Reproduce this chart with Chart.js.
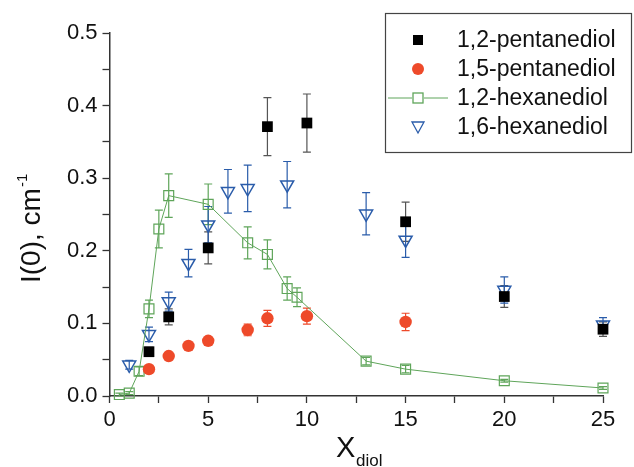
<!DOCTYPE html>
<html>
<head>
<meta charset="utf-8">
<script src="https://cdn.jsdelivr.net/npm/chart.js@4.4.1/dist/chart.umd.min.js"></script>
<style>
  body { margin: 0; background: #fff; }
  canvas { display: block; }
</style>
</head>
<body>
<canvas id="graph" width="634" height="467"></canvas>
<script>
// 1,2-pentanediol
var xPent12 = [2, 3, 5, 8, 10, 15, 20, 25];
var yPent12 = [0.061, 0.109, 0.204, 0.371, 0.376, 0.240, 0.137, 0.092];
var ePent12 = [0.006, 0.011, 0.022, 0.040, 0.040, 0.027, 0.015, 0.010];

// 1,5-pentanediol
var xPent15 = [2, 3, 4, 5, 7, 8, 10, 15];
var yPent15 = [0.037, 0.055, 0.069, 0.076, 0.091, 0.107, 0.110, 0.102];
var ePent15 = [0.004, 0.004, 0.004, 0.004, 0.008, 0.011, 0.011, 0.012];

// 1,2-hexanediol
var xHex12 = [0.5, 1, 1.5, 2, 2.5, 3, 5, 7, 8, 9, 9.5, 13, 15, 20, 25];
var yHex12 = [0.002, 0.004, 0.034, 0.120, 0.230, 0.276, 0.264, 0.211, 0.195, 0.148, 0.136, 0.048, 0.037, 0.021, 0.011];
var eHex12 = [0.002, 0.002, 0.006, 0.012, 0.026, 0.030, 0.028, 0.022, 0.020, 0.016, 0.013, 0.005, 0.005, 0.002, 0.002];

// 1,6-hexanediol
var xHex16 = [1, 2, 3, 4, 5, 6, 7, 9, 13, 15, 20, 25];
var yHex16 = [0.043, 0.085, 0.130, 0.183, 0.236, 0.282, 0.286, 0.291, 0.251, 0.215, 0.146, 0.098];
var eHex16 = [0.006, 0.010, 0.013, 0.019, 0.025, 0.030, 0.032, 0.032, 0.029, 0.024, 0.018, 0.010];

var labels = ["1,2-pentanediol", "1,5-pentanediol", "1,2-hexanediol", "1,6-hexanediol"];

var FONT = "'Liberation Sans', Arial, sans-serif";

function points(xs, ys) {
  var pts = [];
  for (var i = 0; i < xs.length; i++) pts.push({ x: xs[i], y: ys[i] });
  return pts;
}

// error bars drawn under the markers
var errorBars = {
  id: 'errorBars',
  beforeDatasetsDraw: function (chart) {
    var ctx = chart.ctx;
    var sx = chart.scales.x, sy = chart.scales.y;
    chart.data.datasets.forEach(function (ds) {
      ctx.save();
      ctx.strokeStyle = ds.errColor;
      ctx.lineWidth = 1.2;
      ds.data.forEach(function (p, i) {
        var px = sx.getPixelForValue(p.x);
        var top = sy.getPixelForValue(p.y + ds.errors[i]);
        var bot = sy.getPixelForValue(p.y - ds.errors[i]);
        ctx.beginPath();
        ctx.moveTo(px, top); ctx.lineTo(px, bot);
        ctx.moveTo(px - 4, top); ctx.lineTo(px + 4, top);
        ctx.moveTo(px - 4, bot); ctx.lineTo(px + 4, bot);
        ctx.stroke();
      });
      ctx.restore();
    });
  }
};

// axis titles with sub/superscript
var axisTitles = {
  id: 'axisTitles',
  afterDraw: function (chart) {
    var ctx = chart.ctx;
    ctx.save();
    ctx.fillStyle = '#111';
    ctx.textBaseline = 'alphabetic';
    ctx.font = '29px ' + FONT;
    ctx.fillText('X', 336, 457);
    ctx.font = '17px ' + FONT;
    ctx.fillText('diol', 356, 466);

    ctx.translate(40, 283);
    ctx.rotate(-Math.PI / 2);
    ctx.font = '28px ' + FONT;
    ctx.fillText('I(0), cm', 0, 0);
    var w = ctx.measureText('I(0), cm').width;
    ctx.font = '15px ' + FONT;
    ctx.fillText('-1', w + 1, -13);
    ctx.restore();
  }
};

// legend box in the upper right corner
var legendBox = {
  id: 'legendBox',
  afterDraw: function (chart) {
    var ctx = chart.ctx;
    ctx.save();
    ctx.fillStyle = '#fff';
    ctx.fillRect(385, 13, 247, 140);
    ctx.strokeStyle = '#444';
    ctx.lineWidth = 1.2;
    ctx.strokeRect(385.5, 13.5, 246, 139);
    var rows = [40, 69, 98, 127];
    var mx = 418;
    chart.data.datasets.forEach(function (ds, i) {
      var y = rows[i];
      ctx.lineWidth = 1.3;
      if (i === 0) {
        ctx.fillStyle = '#000';
        ctx.fillRect(mx - 5, y - 5, 10, 10);
      } else if (i === 1) {
        ctx.fillStyle = ds.pointBackgroundColor;
        ctx.beginPath(); ctx.arc(mx, y, 6, 0, Math.PI * 2); ctx.fill();
      } else if (i === 2) {
        ctx.strokeStyle = ds.borderColor;
        ctx.lineWidth = 1;
        ctx.beginPath(); ctx.moveTo(388, y); ctx.lineTo(412, y); ctx.moveTo(424, y); ctx.lineTo(448, y); ctx.stroke();
        ctx.lineWidth = 1.3;
        ctx.strokeRect(mx - 5, y - 5, 10, 10);
      } else {
        ctx.strokeStyle = ds.pointBorderColor;
        ctx.beginPath();
        ctx.moveTo(mx - 6, y - 5); ctx.lineTo(mx + 6, y - 5); ctx.lineTo(mx, y + 6); ctx.closePath();
        ctx.stroke();
      }
      ctx.fillStyle = '#111';
      ctx.font = '23px ' + FONT;
      ctx.textBaseline = 'middle';
      ctx.fillText(labels[i], 457, y + 1);
    });
    ctx.restore();
  }
};

new Chart(document.getElementById('graph'),
{
  type: 'scatter',
  data:
  {
    datasets:
    [{
      label: labels[0],
      data: points(xPent12, yPent12),
      errors: ePent12,
      errColor: '#555',
      clip: false,
      pointStyle: 'rect',
      pointRadius: 7.6,
      pointBackgroundColor: '#000',
      pointBorderColor: '#000',
      pointBorderWidth: 0
    },
    {
      label: labels[1],
      data: points(xPent15, yPent15),
      errors: ePent15,
      errColor: '#ee4a2a',
      clip: false,
      pointStyle: 'circle',
      pointRadius: 6.2,
      pointBackgroundColor: '#ee4a2a',
      pointBorderColor: '#ee4a2a',
      pointBorderWidth: 0
    },
    {
      label: labels[2],
      data: points(xHex12, yHex12),
      errors: eHex12,
      errColor: '#5fa55a',
      clip: false,
      showLine: true,
      borderColor: '#5fa55a',
      borderWidth: 1,
      backgroundColor: 'rgba(0,0,0,0)',
      pointStyle: 'rect',
      pointRadius: 7,
      pointBackgroundColor: 'rgba(0,0,0,0)',
      pointBorderColor: '#5fa55a',
      pointBorderWidth: 1.2
    },
    {
      label: labels[3],
      data: points(xHex16, yHex16),
      errors: eHex16,
      errColor: '#2a5caa',
      clip: false,
      pointStyle: 'triangle',
      pointRotation: 180,
      pointRadius: 7.5,
      pointBackgroundColor: 'rgba(0,0,0,0)',
      pointBorderColor: '#2a5caa',
      pointBorderWidth: 1.5
    }]
  },
  options:
  {
    responsive: false,
    animation: false,
    layout: { padding: { top: 33, right: 31, left: 0, bottom: 0 } },
    plugins: { legend: { display: false }, tooltip: { enabled: false } },
    scales:
    {
      x:
      {
        type: 'linear', min: 0, max: 25,
        afterFit: function (s) { s.height = 71; },
        border: { color: '#333', width: 1.5 },
        grid: { drawOnChartArea: false, tickLength: 7, color: '#333', tickWidth: 1.3 },
        ticks:
        {
          stepSize: 2.5, autoSkip: false, maxRotation: 0, padding: 4,
          color: '#111', font: { family: FONT, size: 22 },
          callback: function (v) { return v % 5 === 0 ? String(v) : ''; }
        }
      },
      y:
      {
        min: 0, max: 0.5,
        afterFit: function (s) { s.width = 109.5; },
        border: { color: '#333', width: 1.5 },
        grid: { drawOnChartArea: false, tickLength: 7, color: '#333', tickWidth: 1.3 },
        ticks:
        {
          stepSize: 0.05, autoSkip: false, padding: 5,
          color: '#111', font: { family: FONT, size: 22 },
          callback: function (v) {
            return Math.abs(v * 10 - Math.round(v * 10)) < 1e-6 ? v.toFixed(1) : '';
          }
        }
      }
    }
  },
  plugins: [errorBars, axisTitles, legendBox]
});
</script>
</body>
</html>
